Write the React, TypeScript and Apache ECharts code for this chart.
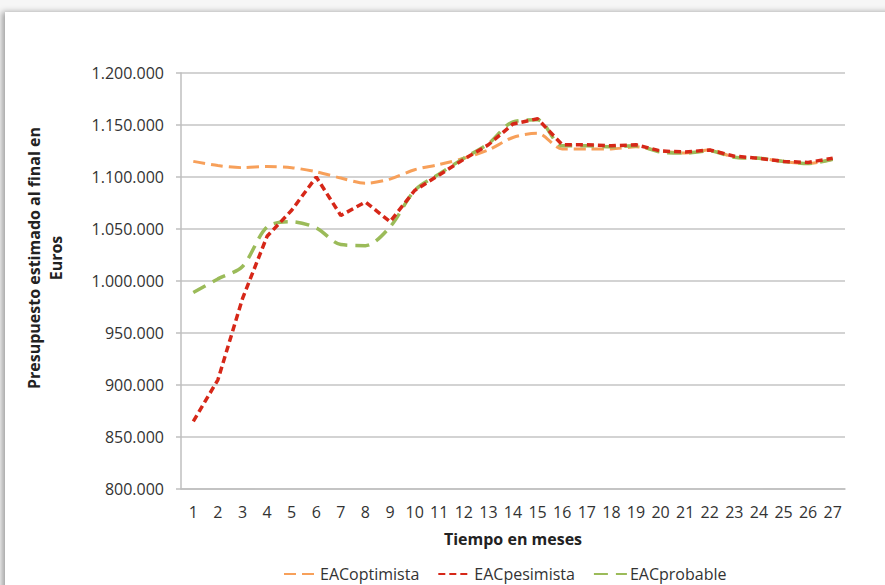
import React, { useEffect, useRef } from "react";
import * as echarts from "echarts";

const months = ["1","2","3","4","5","6","7","8","9","10","11","12","13","14","15","16","17","18","19","20","21","22","23","24","25","26","27"];
const optimista = [1115000, 1111000, 1109000, 1110000, 1109000, 1105000, 1099000, 1094000, 1098000, 1107000, 1112000, 1118000, 1126000, 1138000, 1142000, 1127000, 1127000, 1127000, 1129000, 1125000, 1123000, 1126000, 1119000, 1118000, 1115000, 1113000, 1117000];
const pesimista = [865000, 905000, 983000, 1043000, 1068000, 1100000, 1063000, 1076000, 1057000, 1087000, 1102000, 1117000, 1131000, 1151000, 1156000, 1131000, 1131000, 1130000, 1131000, 1125000, 1124000, 1126000, 1120000, 1118000, 1115000, 1114000, 1118000];
const probable = [989000, 1002000, 1014000, 1052000, 1057000, 1051000, 1035000, 1034000, 1052000, 1087000, 1103000, 1118000, 1132000, 1153000, 1155000, 1130000, 1130000, 1129000, 1130000, 1124000, 1123000, 1125000, 1119000, 1118000, 1115000, 1113000, 1117000];
const seriesNames = ["EACoptimista", "EACpesimista", "EACprobable"];
const xTitle = "Tiempo en meses";
const yTitle = "Presupuesto estimado al final en\nEuros";

const FONT = "'Open Sans', 'Noto Sans', sans-serif";
const fmt = (v: number) => String(v).replace(/\B(?=(\d{3})+(?!\d))/g, ".");

export default function App() {
  const ref = useRef<HTMLDivElement>(null);
  useEffect(() => {
    if (!ref.current) return;
    const chart = echarts.init(ref.current, undefined, { renderer: "svg" });
    chart.setOption({
      animation: false,
      backgroundColor: "transparent",
      textStyle: { fontFamily: FONT },
      grid: { left: 181, right: 40, top: 73, bottom: 96, containLabel: false },
      legend: {
        left: 283,
        top: 566,
        padding: 0,
        itemWidth: 33,
        itemHeight: 12,
        itemGap: 18,
        itemStyle: { opacity: 0 },
        textStyle: { fontFamily: FONT, fontSize: 16, color: "#333", padding: [0, 0, 0, -2] },
        data: seriesNames,
      },
      xAxis: {
        type: "category",
        data: months,
        boundaryGap: true,
        axisLine: { show: true, lineStyle: { color: "#bfbfbf", width: 1.5 } },
        axisTick: { show: false },
        axisLabel: { interval: 0, margin: 15, fontSize: 16, color: "#333", fontFamily: FONT },
        splitLine: { show: false },
      },
      yAxis: {
        type: "value",
        min: 800000,
        max: 1200000,
        interval: 50000,
        axisLine: { show: true, lineStyle: { color: "#bfbfbf", width: 1.5 } },
        axisTick: { show: true, length: 5, lineStyle: { color: "#bfbfbf", width: 1.5 } },
        axisLabel: { margin: 17, fontSize: 16, color: "#333", fontFamily: FONT, formatter: fmt },
        splitLine: { show: true, lineStyle: { color: "#c4c4c4", width: 1.5 } },
      },
      graphic: [
        {
          type: "text",
          x: 45,
          y: 258,
          rotation: Math.PI / 2,
          style: {
            text: yTitle,
            fontFamily: FONT,
            fontSize: 16,
            fontWeight: "bold",
            fill: "#222",
            align: "center",
            verticalAlign: "middle",
            lineHeight: 22,
          },
        },
        {
          type: "text",
          x: 513,
          y: 539,
          style: {
            text: xTitle,
            fontFamily: FONT,
            fontSize: 16,
            fontWeight: "bold",
            fill: "#222",
            align: "center",
            verticalAlign: "middle",
          },
        },
      ],
      series: [
        {
          name: seriesNames[0],
          type: "line",
          data: optimista,
          symbol: "none",
          smooth: 0.3,
          z: 2,
          itemStyle: { color: "#F7A05A" },
          lineStyle: { color: "#F7A05A", width: 3, type: [12, 6] },
        },
        {
          name: seriesNames[1],
          type: "line",
          data: pesimista,
          symbol: "none",
          smooth: false,
          z: 4,
          itemStyle: { color: "#D62718" },
          lineStyle: { color: "#D62718", width: 3.5, type: [7, 4] },
        },
        {
          name: seriesNames[2],
          type: "line",
          data: probable,
          symbol: "none",
          smooth: 0.3,
          z: 3,
          itemStyle: { color: "#9BBB59" },
          lineStyle: { color: "#9BBB59", width: 3.5, type: [14, 8] },
        },
      ],
    });
    return () => chart.dispose();
  }, []);

  return (
    <div style={{ position: "fixed", left: 0, top: 0, width: 885, height: 585, background: "#f6f6f6", overflow: "hidden" }}>
      <div
        style={{
          position: "absolute",
          left: 5,
          top: 12,
          width: 920,
          height: 620,
          background: "#ffffff",
          boxShadow: "-3px 0 6px rgba(0,0,0,0.35)",
        }}
      />
      <div ref={ref} style={{ position: "absolute", left: 0, top: 0, width: 885, height: 585 }} />
    </div>
  );
}
